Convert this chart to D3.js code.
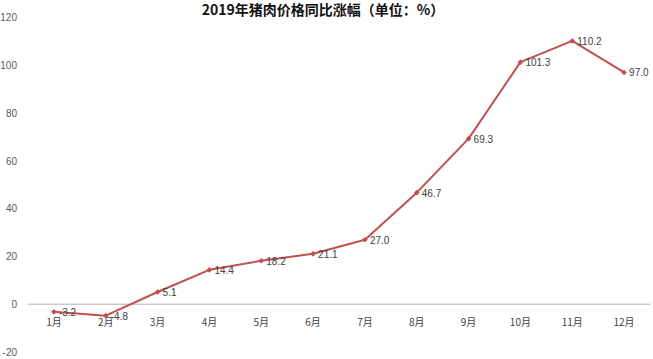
<!DOCTYPE html>
<html>
    <head>
        <meta charset="utf-8">
        <script src="https://d3js.org/d3.v7.min.js"></script>
        <style type="text/css">
            html, body {
                margin: 0;
                padding: 0;
                background: #fff;
            }
            svg {
                display: block;
                font-family: "Noto Sans CJK SC", "Noto Sans", sans-serif;
            }
        </style>
    </head>
    <body>
        <div id="chart"></div>
        <script>
            var months = ["1月", "2月", "3月", "4月", "5月", "6月", "7月", "8月", "9月", "10月", "11月", "12月"];
            var values = [-3.2, -4.8, 5.1, 14.4, 18.2, 21.1, 27.0, 46.7, 69.3, 101.3, 110.2, 97.0];
            var yTicks = [-20, 0, 20, 40, 60, 80, 100, 120];

            var width = 653, height = 359;
            var lineColor = "#c0504d";

            var svg = d3.select("#chart").append("svg")
                .attr("width", width)
                .attr("height", height);

            var x = d3.scaleBand().domain(months).range([28, 650]);
            var y = d3.scaleLinear().domain([-20, 120]).range([352, 17.5]);

            // title
            svg.append("text")
                .attr("x", 323)
                .attr("y", 15)
                .attr("text-anchor", "middle")
                .attr("font-size", "14px")
                .attr("font-weight", "bold")
                .attr("fill", "#111")
                .text("2019年猪肉价格同比涨幅（单位：%）");

            // y tick labels only, plain hyphen minus like the original
            var yAxis = d3.axisLeft(y).tickValues(yTicks).tickSize(0).tickPadding(0)
                .tickFormat(function(d) { return String(d); });
            var gy = svg.append("g")
                .attr("transform", "translate(17,0)")
                .call(yAxis);
            gy.select(".domain").remove();
            gy.selectAll("text")
                .attr("font-size", "10px")
                .attr("fill", "#595959")
                .attr("font-family", "'Liberation Sans', sans-serif");

            // category axis at zero
            svg.append("line")
                .attr("x1", 28).attr("x2", 650)
                .attr("y1", y(0)).attr("y2", y(0))
                .attr("stroke", "#b3b3b3")
                .attr("stroke-width", 1);

            svg.selectAll(".cat")
                .data(months)
                .enter().append("text")
                .attr("class", "cat")
                .attr("x", function(d) { return x(d) + x.bandwidth() / 2; })
                .attr("y", 326)
                .attr("text-anchor", "middle")
                .attr("font-size", "10px")
                .attr("fill", "#404040")
                .text(function(d) { return d; });

            var cx = function(d, i) { return x(months[i]) + x.bandwidth() / 2; };

            var line = d3.line()
                .x(cx)
                .y(function(d) { return y(d); });

            svg.append("path")
                .datum(values)
                .attr("d", line)
                .attr("fill", "none")
                .attr("stroke", lineColor)
                .attr("stroke-width", 2)
                .attr("stroke-linejoin", "round");

            // small square markers turned into diamonds
            svg.selectAll(".pt")
                .data(values)
                .enter().append("path")
                .attr("class", "pt")
                .attr("d", d3.symbol().type(d3.symbolSquare).size(16))
                .attr("transform", function(d, i) { return "translate(" + cx(d, i) + "," + y(d) + ") rotate(45)"; })
                .attr("fill", lineColor);

            svg.selectAll(".lbl")
                .data(values)
                .enter().append("text")
                .attr("class", "lbl")
                .attr("x", function(d, i) { return cx(d, i) + 5; })
                .attr("y", function(d) { return y(d) + 4; })
                .attr("font-size", "10px")
                .attr("fill", "#404040")
                .attr("font-family", "'Liberation Sans', sans-serif")
                .text(function(d) { return d.toFixed(1); });
        </script>
    </body>
</html>
